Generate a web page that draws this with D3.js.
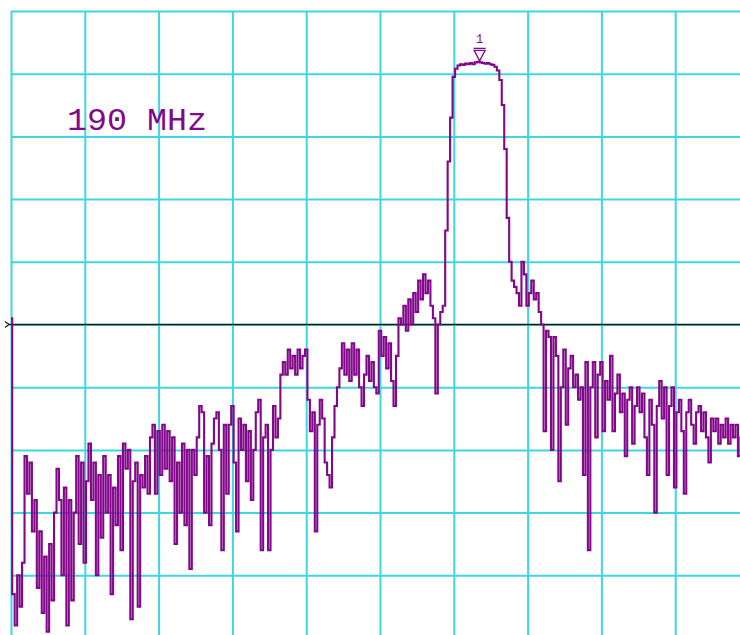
<!DOCTYPE html>
<html>
<head>
<meta charset="utf-8">
<script src="https://cdnjs.cloudflare.com/ajax/libs/d3/7.8.5/d3.min.js"></script>
<style>
  html, body { margin: 0; padding: 0; background: #fff; }
  svg { display: block; }
</style>
</head>
<body>
<div id="chart"></div>
<script>
// sweep settings (MHz) and grid ticks
var startMHz = 140;
var stopMHz = 240;
var stepMHz = 1 / 3;
var freqTicks = [140, 150, 160, 170, 180, 190, 200, 210, 220, 230, 240];
var levelTicks = [-100, -90, -80, -70, -60, -50, -40, -30, -20, -10, 0];
var displayLineDb = -50;
var centerLabel = '190 MHz';
var markerName = '1';
var markerMHz = 203.5;
var markerDb = -8.1;

// trace readings in dB, one per sweep point
var traceDb = [
  -49, -93, -98, -90, -95, -88, -71, -77, -72, -83,
  -78, -92, -83, -96, -87, -99, -85, -94, -80, -73,
  -78, -90, -76, -98, -78, -94, -80, -71, -85, -72,
  -88, -75, -69, -78, -72, -90, -74, -84, -71, -80,
  -74, -93, -76, -82, -71, -86, -69, -73, -70, -97,
  -75, -72, -95, -74, -76, -71, -77, -68, -66, -77,
  -67, -74, -66, -73, -67, -75, -68, -85, -72, -80,
  -69, -82, -70, -89, -70, -74, -68, -63, -64, -80,
  -71, -82, -69, -65, -64, -70, -86, -66, -77, -66,
  -63, -72, -83, -65, -70, -66, -75, -67, -78, -70,
  -64, -62, -86, -68, -66, -86, -70, -63, -68, -65,
  -58, -56, -58, -54, -57, -55, -58, -54, -57, -55,
  -54, -62, -67, -64, -83, -66, -62, -65, -72, -74,
  -76, -68, -63, -60, -57, -53, -58, -54, -59, -53,
  -58, -54, -60, -63, -58, -55, -59, -56, -60, -61,
  -51, -55, -52, -57, -53, -59, -63, -55, -49, -50,
  -47, -51, -46, -50, -45, -48, -43, -46, -42, -45,
  -43, -47, -49, -61, -50, -48, -47, -35, -24, -17,
  -10.5, -9.2, -8.7, -8.5, -8.6, -8.4, -8.5, -8.3, -8.5, -8.2,
  -8.1, -8.2, -8.3, -8.4, -8.3, -8.5, -8.6, -8.9, -9.5, -11,
  -15, -22, -33, -40, -43, -44, -45, -47, -40, -42,
  -47, -45, -43, -46, -45, -48, -50, -67, -51, -52,
  -70, -52, -55, -75, -60, -54, -66, -57, -55, -60,
  -58, -62, -60, -74, -56, -86, -60, -56, -68, -58,
  -56, -67, -59, -62, -55, -67, -61, -58, -64, -61,
  -71, -62, -60, -69, -63, -60, -64, -61, -68, -74,
  -62, -66, -80, -63, -59, -65, -60, -74, -63, -60,
  -76, -64, -62, -67, -77, -64, -62, -66, -69, -64,
  -63, -67, -64, -68, -72, -65, -67, -65, -69, -66,
  -68, -65, -69, -66, -68, -66, -71, -68
];

function spectrum(div) {
  var w = 740;
  var h = 635;
  var left = 11, right = 749, top = 11, bottom = 638;
  var purple = '#82078a';
  var cyan = '#3ed6e0';

  var x = d3.scaleLinear().domain([startMHz, stopMHz]).range([left, right]);
  var y = d3.scaleLinear().domain([-100, 0]).range([bottom, top]);

  var svg = d3.select(div)
              .append('svg')
              .attr('width', w)
              .attr('height', h);

  svg.append('rect')
    .attr('width', w)
    .attr('height', h)
    .attr('fill', '#fff');

  // grid from the axes, ticks stretched over the plot
  var gx = svg.append('g')
    .attr('transform', 'translate(0,' + bottom + ')')
    .call(d3.axisBottom(x).tickValues(freqTicks).tickSize(-(bottom - top)).tickFormat(''));
  var gy = svg.append('g')
    .attr('transform', 'translate(' + left + ',0)')
    .call(d3.axisLeft(y).tickValues(levelTicks).tickSize(-(right - left)).tickFormat(''));
  [gx, gy].forEach(function(g) {
    g.select('.domain').remove();
    g.selectAll('line')
      .attr('stroke', cyan)
      .attr('stroke-width', 2);
  });

  // display line
  svg.append('line')
    .attr('x1', 8)
    .attr('x2', w)
    .attr('y1', y(displayLineDb))
    .attr('y2', y(displayLineDb))
    .attr('stroke', '#1a1a1a')
    .attr('stroke-width', 1.6);
  svg.append('path')
    .attr('d', 'M5,' + (y(displayLineDb) - 3) + 'l4,3l-4,3')
    .attr('fill', 'none')
    .attr('stroke', '#1a1a1a')
    .attr('stroke-width', 1.2);

  var line = d3.line()
    .x(function(d, i) { return x(startMHz + i * stepMHz); })
    .y(function(d) { return y(d); })
    .curve(d3.curveStep);

  svg.append('path')
    .datum(traceDb)
    .attr('d', line)
    .attr('fill', 'none')
    .attr('stroke', purple)
    .attr('stroke-width', 2.1)
    .attr('stroke-linejoin', 'miter');

  svg.append('text')
    .text(centerLabel)
    .attr('x', 67)
    .attr('y', 130)
    .attr('textLength', 140)
    .attr('lengthAdjust', 'spacingAndGlyphs')
    .attr('font-family', 'Liberation Mono, monospace')
    .attr('font-size', '31px')
    .attr('fill', purple);

  // marker 1
  var mx = x(markerMHz);
  var my = y(markerDb);
  svg.append('path')
    .attr('d', 'M' + (mx - 6) + ',' + (my - 13.5) + 'h12M' + (mx - 5.5) + ',' + (my - 11.5) +
      'h11l-5.5,10.5z')
    .attr('fill', 'none')
    .attr('stroke', purple)
    .attr('stroke-width', 1.3);
  svg.append('text')
    .text(markerName)
    .attr('x', mx)
    .attr('y', my - 19)
    .attr('text-anchor', 'middle')
    .attr('font-family', 'Liberation Mono, monospace')
    .attr('font-size', '12px')
    .attr('fill', purple);
}

spectrum('#chart');
</script>
</body>
</html>
